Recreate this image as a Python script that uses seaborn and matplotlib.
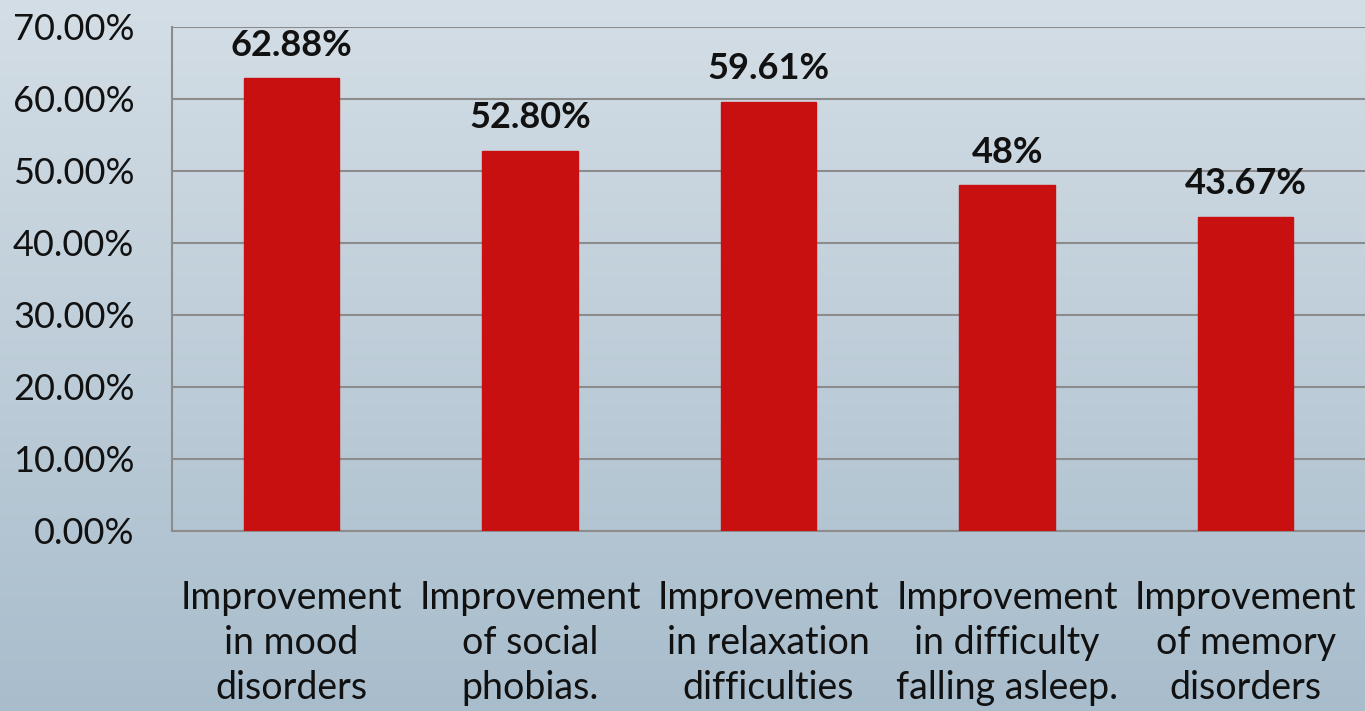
import matplotlib
matplotlib.use("Agg")
import matplotlib.pyplot as plt
import seaborn as sns
import numpy as np
import pandas as pd
from matplotlib.ticker import FuncFormatter

categories = ["Improvement\nin mood\ndisorders",
              "Improvement\nof social\nphobias.",
              "Improvement\nin relaxation\ndifficulties",
              "Improvement\nin difficulty\nfalling asleep.",
              "Improvement\nof memory\ndisorders"]
values = [62.88, 52.80, 59.61, 48.0, 43.67]
value_labels = ["62.88%", "52.80%", "59.61%", "48%", "43.67%"]
yticks = [0, 10, 20, 30, 40, 50, 60, 70]

sns.set_theme(style="white")
plt.rcParams['font.family'] = ['Lato', 'DejaVu Sans']

fig = plt.figure(figsize=(13.65, 7.11), dpi=100)

# gradient background
bg = fig.add_axes([0, 0, 1, 1], zorder=-10)
grad = np.linspace(0, 1, 256).reshape(-1, 1)
top = np.array([0.83, 0.87, 0.90])
bot = np.array([0.66, 0.74, 0.80])
img = top[None, None, :] * (1 - grad[:, :, None]) + bot[None, None, :] * grad[:, :, None]
bg.imshow(img, aspect='auto', extent=[0, 1, 0, 1])
bg.set_axis_off()

ax = fig.add_axes([172/1365, 1 - 531/711, (1365 - 172)/1365, 504/711])
ax.patch.set_alpha(0)

df = pd.DataFrame({"cat": categories, "val": values})
sns.barplot(data=df, x="cat", y="val", color="#c81010", width=0.4,
            saturation=1, ax=ax, zorder=3)
for p in ax.patches:
    p.set_edgecolor("#c81010")

ax.set_ylim(0, 70)
ax.set_xlim(-0.5, 4.5)
ax.set_yticks(yticks)
ax.yaxis.set_major_formatter(FuncFormatter(lambda v, _: f"{v:.2f}%"))
ax.grid(axis='y', color='#8c8c8c', linewidth=1.5, zorder=0)
ax.set_axisbelow(True)
for s in ["top", "right"]:
    ax.spines[s].set_visible(False)
for s in ["left", "bottom"]:
    ax.spines[s].set_color('#8c8c8c')
    ax.spines[s].set_linewidth(1.5)
ax.set_xlabel("")
ax.set_ylabel("")
ax.tick_params(axis='y', labelsize=26, colors='#111111', pad=27, length=0)
ax.tick_params(axis='x', labelsize=27, colors='#111111', pad=35, length=0)
for t in ax.get_xticklabels():
    t.set_linespacing(1.32)

for i, (v, lab) in enumerate(zip(values, value_labels)):
    ax.annotate(lab, (i, v), xytext=(0, 12), textcoords='offset points',
                ha='center', va='bottom', fontsize=26, fontweight='bold',
                color='#111111')

fig.savefig("out.png", dpi=100)
